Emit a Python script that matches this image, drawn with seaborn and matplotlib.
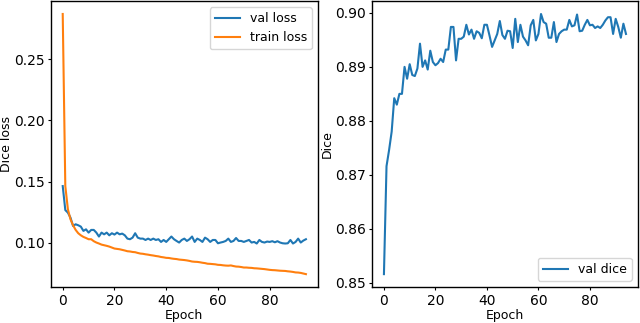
import numpy as np
import pandas as pd
import matplotlib
matplotlib.use("Agg")
import matplotlib.pyplot as plt
import seaborn as sns

epochs = list(range(95))

val_loss = [
    0.1464, 0.1268, 0.1247, 0.1206, 0.1138, 0.1152, 0.1144, 0.1133, 0.1098, 0.1111,
    0.1084, 0.1106, 0.1106, 0.1084, 0.1052, 0.1084, 0.1070, 0.1084, 0.1062, 0.1079,
    0.1068, 0.1084, 0.1070, 0.1076, 0.1062, 0.1035, 0.1030, 0.1043, 0.1079, 0.1043,
    0.1035, 0.1035, 0.1024, 0.1035, 0.1024, 0.1035, 0.1024, 0.1030, 0.1008, 0.1024,
    0.1008, 0.1030, 0.1052, 0.1030, 0.1016, 0.1003, 0.1024, 0.1035, 0.1016, 0.1030,
    0.1052, 0.1008, 0.1035, 0.1024, 0.1008, 0.1043, 0.1030, 0.1008, 0.1024, 0.1024,
    0.0997, 0.1003, 0.1008, 0.1016, 0.1035, 0.1008, 0.1016, 0.1040, 0.1016, 0.1016,
    0.1008, 0.1016, 0.1024, 0.1003, 0.1008, 0.0995, 0.1024, 0.1008, 0.1003, 0.1011,
    0.1008, 0.1014, 0.1005, 0.1014, 0.1003, 0.0997, 0.0995, 0.0997, 0.1024, 0.0995,
    0.1008, 0.1035, 0.1003, 0.1019, 0.1030,
]

train_loss = [
    0.2869, 0.1464, 0.1274, 0.1193, 0.1144, 0.1106, 0.1079, 0.1062, 0.1049, 0.1040,
    0.1030, 0.1030, 0.1014, 0.1003, 0.0995, 0.0986, 0.0981, 0.0976, 0.0970, 0.0962,
    0.0954, 0.0951, 0.0948, 0.0943, 0.0938, 0.0932, 0.0930, 0.0926, 0.0924, 0.0918,
    0.0913, 0.0911, 0.0907, 0.0904, 0.0900, 0.0897, 0.0893, 0.0890, 0.0885, 0.0882,
    0.0878, 0.0877, 0.0873, 0.0870, 0.0868, 0.0864, 0.0862, 0.0860, 0.0857, 0.0853,
    0.0848, 0.0846, 0.0845, 0.0842, 0.0838, 0.0835, 0.0830, 0.0829, 0.0827, 0.0825,
    0.0821, 0.0820, 0.0817, 0.0815, 0.0814, 0.0816, 0.0811, 0.0807, 0.0806, 0.0803,
    0.0799, 0.0799, 0.0797, 0.0796, 0.0793, 0.0792, 0.0790, 0.0788, 0.0786, 0.0783,
    0.0780, 0.0778, 0.0777, 0.0775, 0.0773, 0.0772, 0.0771, 0.0768, 0.0766, 0.0763,
    0.0759, 0.0758, 0.0755, 0.0750, 0.0745,
]

val_dice = [
    0.8516, 0.8716, 0.8746, 0.8780, 0.8842, 0.8830, 0.8850, 0.8850, 0.8900, 0.8878,
    0.8905, 0.8885, 0.8883, 0.8897, 0.8943, 0.8900, 0.8912, 0.8895, 0.8930, 0.8909,
    0.8903, 0.8907, 0.8915, 0.8909, 0.8932, 0.8932, 0.8974, 0.8974, 0.8912, 0.8952,
    0.8952, 0.8956, 0.8978, 0.8960, 0.8969, 0.8952, 0.8966, 0.8963, 0.8953, 0.8978,
    0.8978, 0.8958, 0.8937, 0.8949, 0.8961, 0.8985, 0.8959, 0.8952, 0.8967, 0.8966,
    0.8935, 0.8989, 0.8946, 0.8978, 0.8956, 0.8949, 0.8940, 0.8977, 0.8987, 0.8949,
    0.8961, 0.8998, 0.8983, 0.8980, 0.8954, 0.8954, 0.8983, 0.8946, 0.8961, 0.8966,
    0.8969, 0.8969, 0.8987, 0.8975, 0.8977, 0.8997, 0.8966, 0.8967, 0.8978, 0.8987,
    0.8977, 0.8978, 0.8972, 0.8975, 0.8972, 0.8978, 0.8986, 0.8992, 0.8992, 0.8961,
    0.8989, 0.8974, 0.8954, 0.8980, 0.8961,
]

plt.rcParams["xtick.major.size"] = 2.5
plt.rcParams["ytick.major.size"] = 2.5
plt.rcParams["xtick.major.pad"] = 2.5
plt.rcParams["ytick.major.pad"] = 1.5
plt.rcParams["xtick.labelsize"] = 10
plt.rcParams["ytick.labelsize"] = 10
plt.rcParams["axes.labelsize"] = 9
plt.rcParams["legend.fontsize"] = 9
plt.rcParams["axes.linewidth"] = 1.0

fig = plt.figure(figsize=(6.4, 3.23), dpi=100)
ax1 = fig.add_axes([0.079, 0.111, 0.418, 0.886])
ax2 = fig.add_axes([0.581, 0.111, 0.416, 0.886])

# loss panel
sns.lineplot(x=epochs, y=val_loss, ax=ax1, color="tab:blue", label="val loss")
sns.lineplot(x=epochs, y=train_loss, ax=ax1, color="tab:orange", label="train loss")
ax1.set_xlabel("Epoch", labelpad=0.5)
ax1.set_ylabel("Dice loss", labelpad=1)
ax1.set_xticks([0, 20, 40, 60, 80])
ax1.set_yticks([0.10, 0.15, 0.20, 0.25])
ax1.legend(loc="upper right")

# dice panel
sns.lineplot(x=epochs, y=val_dice, ax=ax2, color="tab:blue", label="val dice")
ax2.set_xlabel("Epoch", labelpad=0.5)
ax2.set_ylabel("Dice", labelpad=1)
ax2.set_xticks([0, 20, 40, 60, 80])
ax2.legend(loc="lower right")

fig.savefig("out.png", dpi=100)
